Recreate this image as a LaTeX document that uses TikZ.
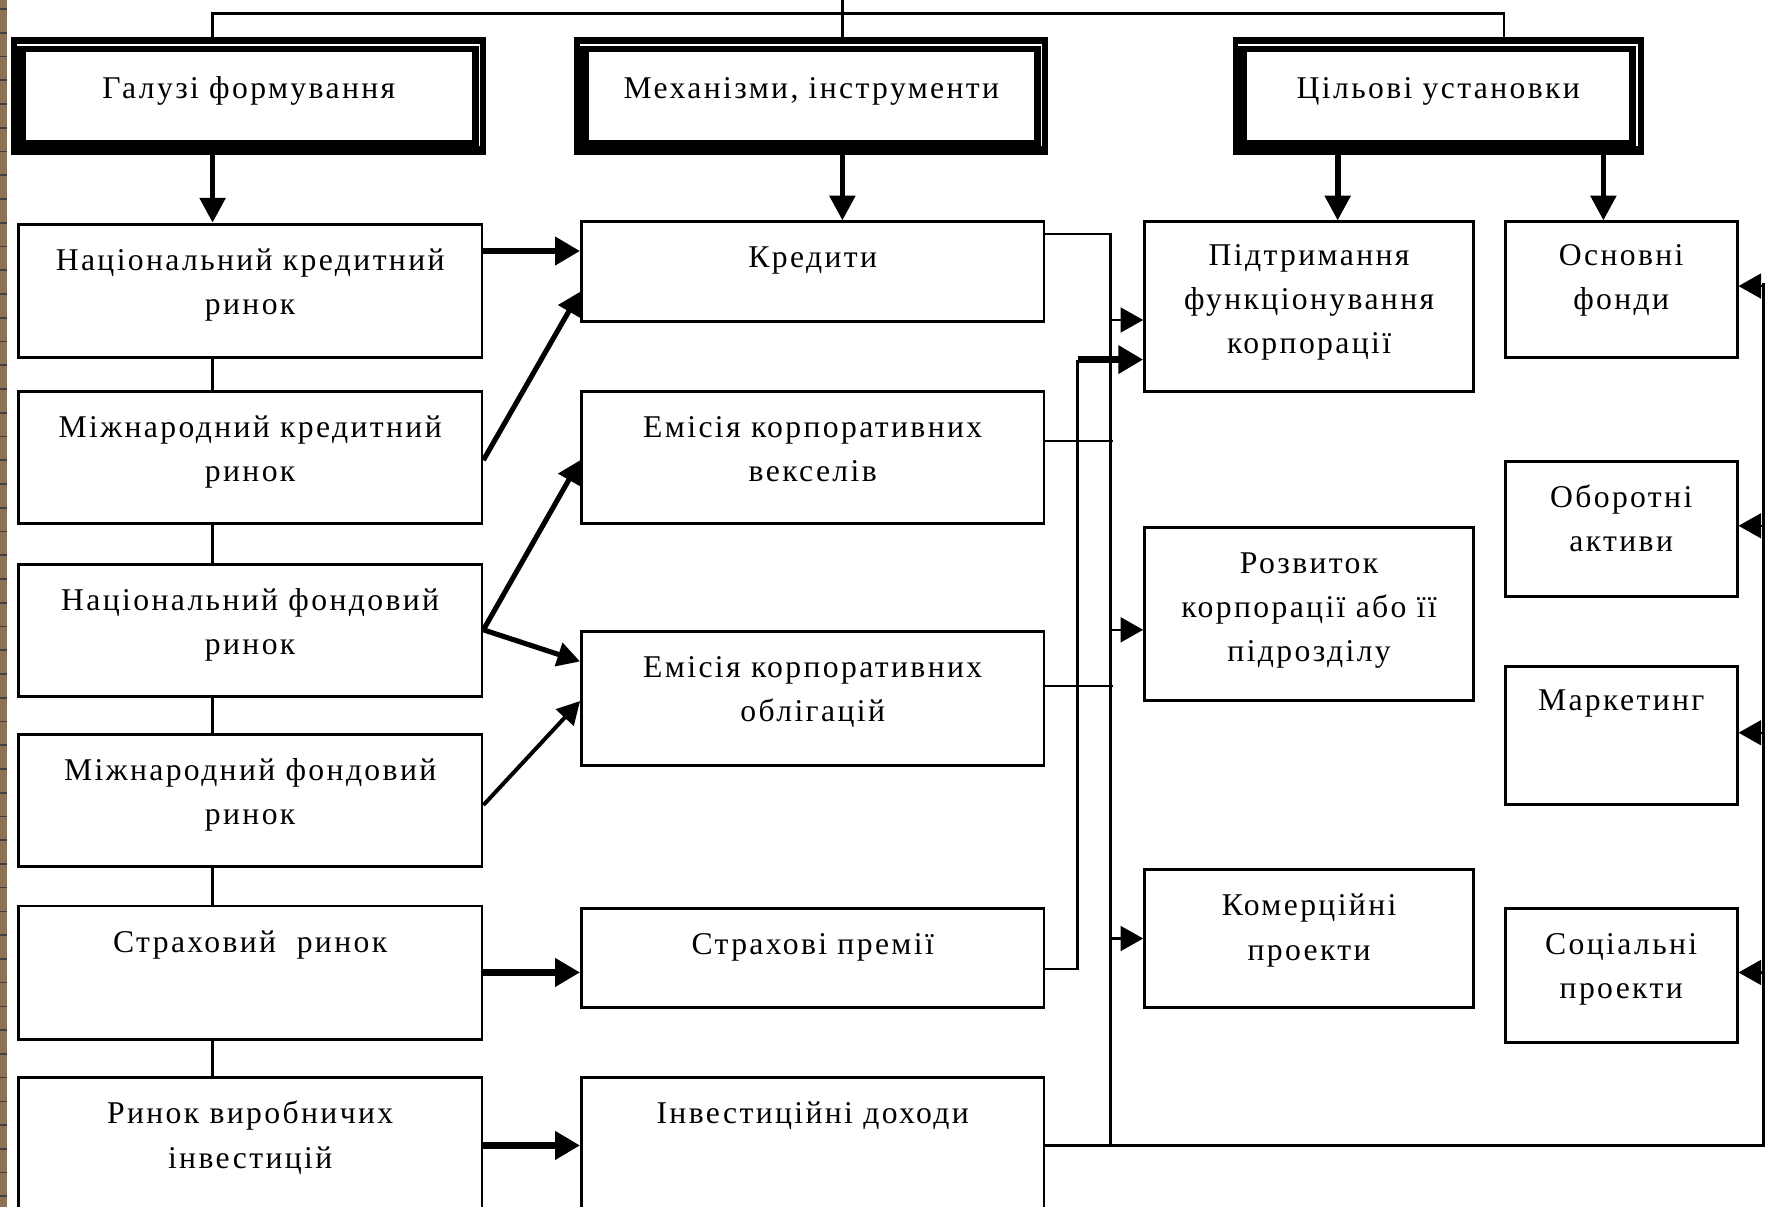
\documentclass[tikz,border=0pt]{standalone}
\usepackage{fontspec}
\setmainfont{Liberation Serif}[LetterSpace=7.5]
\usetikzlibrary{arrows.meta}
\definecolor{stripc}{HTML}{8C7355}
\newcommand\mlines[1]{\begin{tabular}[t]{@{}c@{}}#1\end{tabular}}
\begin{document}
\begin{tikzpicture}[x=1pt,y=-1pt,
  bx/.style={draw, line width=2.5pt, inner sep=0pt, anchor=north west},
  hd/.style={draw, line width=13pt, fill=white, inner sep=0pt, anchor=north west, outer sep=6.5pt},
  lb/.style={anchor=base, yshift=-42pt, inner sep=0pt, font=\fontsize{28}{39}\selectfont},
  hlb/.style={anchor=base, yshift=-54pt, inner sep=0pt, font=\fontsize{28}{39}\selectfont},
  ln/.style={line width=2pt},
  harr/.style={line width=5pt, -{Triangle[length=22pt,width=22pt]}},
  tarr/.style={line width=6pt, -{Triangle[length=22pt,width=24pt]}},
  darr/.style={line width=4.5pt, -{Triangle[length=20pt,width=21pt]}},
  barr/.style={line width=2pt, -{Triangle[length=20pt,width=22pt]}},
  label distance=0pt]
\useasboundingbox (0,0) rectangle (1568,1067);
\clip (0,0) rectangle (1568,1067);
\fill[white] (0,0) rectangle (1568,1067);
% left decorative strip
\fill[stripc] (0,0) rectangle (6,1067);
\foreach \t in {8,29,...,1067} \draw[line width=1.5pt, black!75] (0,\t) -- (6,\t);

% x / y reference coordinates
\coordinate (y0) at (0,0);
\coordinate (xa) at (188,0);
\coordinate (xb) at (745,0);
\coordinate (xc) at (1183,0);
\coordinate (xd) at (1418,0);
\coordinate (xe) at (953,0);
\coordinate (xf) at (982,0);
\coordinate (tl) at (188,12);
\coordinate (tr) at (1330,12);
\coordinate (yb) at (0,1013);
\coordinate (yq) at (0,318);

% headers
\node[hd, minimum width=407, minimum height=91, label={[hlb]north:\mlines{Галузі формування}}] (h1) at (10,33) {};
\node[hd, minimum width=406, minimum height=91, label={[hlb]north:\mlines{Механізми, інструменти}}] (h2) at (508,33) {};
\node[hd, minimum width=351, minimum height=91, label={[hlb]north:\mlines{Цільові установки}}] (h3) at (1090,33) {};
\foreach \h in {h1,h2,h3}
  \draw[white, line width=1.5pt] ([xshift=5pt,yshift=-7pt]\h.north west) -- ([xshift=-6pt,yshift=-7pt]\h.north east) -- ([xshift=-6pt,yshift=8pt]\h.south east);

% left column
\node[bx, minimum width=410, minimum height=118, label={[lb]north:\mlines{Національний кредитний\\ринок}}] (l1) at (15,197) {};
\node[bx, minimum width=410, minimum height=117, label={[lb]north:\mlines{Міжнародний кредитний\\ринок}}] (l2) at (15,345) {};
\node[bx, minimum width=410, minimum height=117, label={[lb]north:\mlines{Національний фондовий\\ринок}}] (l3) at (15,498) {};
\node[bx, minimum width=410, minimum height=117, label={[lb]north:\mlines{Міжнародний фондовий\\ринок}}] (l4) at (15,648) {};
\node[bx, minimum width=410, minimum height=118, label={[lb]north:\mlines{Страховий~\ ринок}}] (l5) at (15,800) {};
\node[bx, minimum width=410, minimum height=160, label={[lb]north:\mlines{Ринок виробничих\\інвестицій}}] (l6) at (15,952) {};

% middle column
\node[bx, minimum width=409, minimum height=88, label={[lb]north:\mlines{Кредити}}] (m1) at (513,195) {};
\node[bx, minimum width=409, minimum height=117, label={[lb]north:\mlines{Емісія корпоративних\\векселів}}] (m2) at (513,345) {};
\node[bx, minimum width=409, minimum height=119, label={[lb]north:\mlines{Емісія корпоративних\\облігацій}}] (m3) at (513,557) {};
\node[bx, minimum width=409, minimum height=88, label={[lb]north:\mlines{Страхові премії}}] (m4) at (513,802) {};
\node[bx, minimum width=409, minimum height=160, label={[lb]north:\mlines{Інвестиційні доходи}}] (m5) at (513,952) {};

% goals column
\node[bx, minimum width=291, minimum height=150, label={[lb, yshift=2pt]north:\mlines{Підтримання\\функціонування\\корпорації}}] (r1) at (1011,195) {};
\node[bx, minimum width=291, minimum height=153, label={[lb]north:\mlines{Розвиток\\корпорації або її\\підрозділу}}] (r2) at (1011,465) {};
\node[bx, minimum width=291, minimum height=122, label={[lb]north:\mlines{Комерційні\\проекти}}] (r3) at (1011,768) {};

% far right column
\node[bx, minimum width=205, minimum height=120, label={[lb, yshift=2pt]north:\mlines{Основні\\фонди}}] (f1) at (1330,195) {};
\node[bx, minimum width=205, minimum height=119, label={[lb]north:\mlines{Оборотні\\активи}}] (f2) at (1330,407) {};
\node[bx, minimum width=205, minimum height=122, label={[lb, yshift=2pt]north:\mlines{Маркетинг}}] (f3) at (1330,588) {};
\node[bx, minimum width=205, minimum height=119, label={[lb]north:\mlines{Соціальні\\проекти}}] (f4) at (1330,802) {};

% top connector
\draw[ln] (tl |- h1.north) -- (tl) -- (tr) -- (tr |- h3.north);
\draw[ln] (xb |- h2.north) -- (xb |- y0);

% header arrows
\draw[harr] (xa |- h1.south) -- (xa |- l1.north);
\draw[harr] (xb |- h2.south) -- (xb |- m1.north);
\draw[harr] (xc |- h3.south) -- (xc |- r1.north);
\draw[harr] (xd |- h3.south) -- (xd |- f1.north);

% left column links
\draw[ln] (xa |- l1.south) -- (xa |- l2.north);
\draw[ln] (xa |- l2.south) -- (xa |- l3.north);
\draw[ln] (xa |- l3.south) -- (xa |- l4.north);
\draw[ln] (xa |- l4.south) -- (xa |- l5.north);
\draw[ln] (xa |- l5.south) -- (xa |- l6.north);

% sources -> instruments
\draw[tarr] ([yshift=-25pt]l1.north east) -- ([yshift=-27pt]m1.north west);
\draw[darr] ([yshift=-62pt]l2.north east) -- ([yshift=-63pt]m1.north west);
\draw[darr] ([yshift=-59pt]l3.north east) -- ([yshift=-62pt]m2.north west);
\draw[darr] ([yshift=-59pt]l3.north east) -- ([yshift=-28pt]m3.north west);
\draw[darr, line width=3.5pt] ([yshift=-64pt]l4.north east) -- ([yshift=-63pt]m3.north west);
\draw[tarr] ([yshift=-60pt]l5.north east) -- ([yshift=-58pt]m4.north west);
\draw[tarr] ([yshift=-61pt]l6.north east) -- ([yshift=-61pt]m5.north west);

% instruments -> bus
\draw[ln] ([yshift=-12pt]m1.north east) -| (xf |- yb);
\draw[ln] ([yshift=-45pt]m2.north east) -- ++(60,0);
\draw[ln] ([yshift=-50pt]m3.north east) -- ++(60,0);
\draw[ln] ([yshift=-55pt]m4.north east) -| (xe |- yq);
\draw[tarr] (xe |- yq) -- (r1.west |- yq);

% bus -> goals
\draw[barr] ([xshift=-29pt,yshift=-88pt]r1.north west) -- ([yshift=-88pt]r1.north west);
\draw[barr] ([xshift=-29pt,yshift=-92pt]r2.north west) -- ([yshift=-92pt]r2.north west);
\draw[barr] ([xshift=-29pt,yshift=-62pt]r3.north west) -- ([yshift=-62pt]r3.north west);

% investment income -> far right
\draw[ln] ([yshift=-61pt]m5.north east) -| ([xshift=22pt,yshift=-55pt]f1.north east);
\draw[barr] ([xshift=22pt,yshift=-58pt]f1.north east) -- ([yshift=-58pt]f1.north east);
\draw[barr] ([xshift=22pt,yshift=-58pt]f2.north east) -- ([yshift=-58pt]f2.north east);
\draw[barr] ([xshift=22pt,yshift=-60pt]f3.north east) -- ([yshift=-60pt]f3.north east);
\draw[barr] ([xshift=22pt,yshift=-58pt]f4.north east) -- ([yshift=-58pt]f4.north east);
\end{tikzpicture}
\end{document}
